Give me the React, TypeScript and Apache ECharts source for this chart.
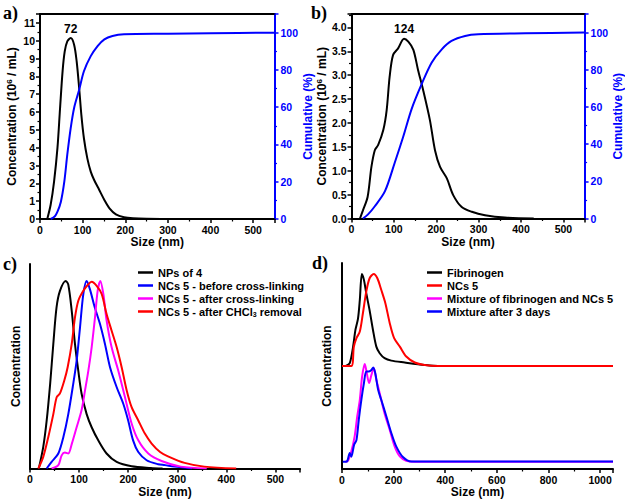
import React, { useEffect, useRef } from "react";
import * as echarts from "echarts";

const FONT = '"Liberation Sans", Arial, sans-serif';
const SERIF = '"Liberation Serif", "Times New Roman", serif';
const BLUE = "#0000ff";
const RED = "#ff0000";
const MAGENTA = "#ff00ff";
const BLACK = "#000000";

// Panel a
const aSize = [17, 25, 33, 41, 47, 53, 58, 64, 72, 80, 86, 92, 97, 103, 111, 119, 127, 139, 151, 163, 178, 197, 218, 250, 300];
const aConc = [0, 0.8, 2.1, 4.0, 6.2, 8.3, 9.4, 9.96, 10.15, 9.78, 8.84, 7.3, 5.84, 4.53, 3.4, 2.66, 2.19, 1.63, 1.07, 0.6, 0.26, 0.1, 0.04, 0.01, 0];
const aCumSize = [25, 35, 41, 49, 57, 64, 72, 80, 92, 103, 119, 135, 151, 170, 197, 300, 400, 550];
const aCum = [0, 1.5, 3.9, 9.3, 20, 34.5, 48.8, 59.6, 69.5, 79.3, 87.4, 92.8, 96.4, 98.2, 99.1, 99.4, 99.7, 100];
const aPeak = [72, 10.15];

// Panel b
const bSize = [20, 27, 38, 47, 55, 63, 75, 83, 90, 98, 110, 124, 134, 146, 157, 169, 185, 197, 209, 225, 240, 260, 284, 315, 362, 430];
const bConc = [0, 0.17, 0.45, 1.08, 1.43, 1.54, 1.85, 2.27, 2.97, 3.42, 3.56, 3.76, 3.7, 3.53, 3.11, 2.69, 2.06, 1.43, 1.08, 0.84, 0.49, 0.24, 0.14, 0.07, 0.02, 0];
const bCumSize = [27, 39, 55, 79, 102, 122, 142, 165, 189, 213, 236, 268, 299, 410, 550];
const bCum = [0, 2.2, 6.6, 14.7, 30, 44, 59, 72, 83.8, 91, 95.5, 98.2, 99.1, 99.6, 100];
const bPeak = [124, 3.76];

// Panel c (normalised concentration)
const cNames = ["NPs of 4", "NCs 5 - before cross-linking", "NCs 5 - after cross-linking", "NCs 5 - after CHCl3 removal"];
const cNpSize = [18, 27, 34, 41, 47.5, 54, 61, 72.7, 78, 85, 91.6, 98.4, 105, 115.4, 125.6, 139, 156, 176.5, 207, 246, 270];
const cNp = [0, 0.115, 0.256, 0.45, 0.664, 0.858, 0.947, 1.0, 0.98, 0.84, 0.664, 0.52, 0.4, 0.29, 0.22, 0.15, 0.08, 0.035, 0.012, 0.003, 0];
const cBeforeSize = [34, 44, 57.7, 68, 78, 88, 95, 101.8, 108.6, 115.4, 122, 132, 142.6, 152.7, 163, 176.6, 190, 200, 210, 220.6, 237.6, 261, 275, 294, 330];
const cBefore = [0, 0.035, 0.08, 0.168, 0.29, 0.45, 0.575, 0.75, 0.93, 1.0, 0.956, 0.858, 0.77, 0.664, 0.54, 0.433, 0.345, 0.256, 0.15, 0.088, 0.044, 0.023, 0.018, 0.01, 0];
const cAfterSize = [44, 57.7, 64.5, 71, 78, 85, 95, 105, 112, 118.8, 125.6, 132.4, 137.8, 143.3, 149.4, 156, 166.3, 180, 193.5, 207, 220.6, 241, 268, 307, 360];
const cAfter = [0, 0.018, 0.07, 0.085, 0.08, 0.13, 0.22, 0.31, 0.415, 0.52, 0.646, 0.805, 0.947, 1.0, 0.93, 0.79, 0.646, 0.52, 0.38, 0.24, 0.15, 0.08, 0.04, 0.01, 0];
const cRemSize = [17, 27, 37.3, 47.5, 54.3, 61, 70, 76.7, 85, 91.6, 98.4, 108.6, 118.8, 125.6, 135.8, 146, 156, 166.3, 176.6, 186.7, 197, 207, 220.6, 234, 247.8, 265, 281, 315, 355, 420];
const cRem = [0, 0.062, 0.168, 0.29, 0.38, 0.4, 0.47, 0.54, 0.664, 0.805, 0.894, 0.947, 0.982, 0.995, 0.973, 0.93, 0.823, 0.734, 0.646, 0.54, 0.416, 0.327, 0.256, 0.186, 0.133, 0.088, 0.065, 0.03, 0.01, 0];

// Panel d (stacked, offset traces)
const dNames = ["Fibrinogen", "NCs 5", "Mixture of fibrinogen and NCs 5", "Mixture after 3 days"];
const dFibSize = [15, 30, 43, 52, 62, 69, 77, 85, 94, 107, 120, 133, 146, 165, 191, 243, 320, 372, 1050];
const dFib = [0.5, 0.514, 0.594, 0.675, 0.73, 0.82, 0.947, 0.918, 0.853, 0.77, 0.675, 0.594, 0.562, 0.538, 0.526, 0.517, 0.505, 0.5, 0.5];
const dNcSize = [0, 36, 46, 56, 69, 81, 94, 107, 123, 137, 152, 168, 185, 202, 224, 249, 282, 320, 370, 1050];
const dNc = [0.5, 0.5, 0.594, 0.635, 0.667, 0.756, 0.861, 0.926, 0.947, 0.926, 0.87, 0.805, 0.708, 0.635, 0.594, 0.546, 0.517, 0.505, 0.5, 0.5];
const dMixSize = [13, 23, 36, 49, 59, 69, 78, 88, 94, 105, 114, 123, 133, 146, 165, 185, 204, 224, 249, 280, 1050];
const dMix = [0.035, 0.04, 0.085, 0.158, 0.255, 0.336, 0.449, 0.51, 0.48, 0.417, 0.457, 0.49, 0.433, 0.368, 0.27, 0.19, 0.11, 0.061, 0.04, 0.035, 0.035];
const dDaySize = [3, 15, 21, 30, 36, 47, 56, 65, 75, 85, 94, 103, 114, 121, 129, 140, 152, 172, 191, 210, 236, 269, 1050];
const dDay = [0.035, 0.035, 0.04, 0.078, 0.06, 0.118, 0.14, 0.239, 0.336, 0.417, 0.473, 0.473, 0.481, 0.493, 0.465, 0.384, 0.336, 0.255, 0.175, 0.11, 0.058, 0.036, 0.036];

const pairs = (xs: number[], ys: number[]) => xs.map((x, i) => [x, ys[i]]);

const labelStyle = (color: string) => ({
  fontFamily: FONT,
  fontWeight: "bold",
  fontSize: 10.5,
  color,
});

const nameStyle = (color: string) => ({
  fontFamily: FONT,
  fontWeight: "bold",
  fontSize: 12,
  color,
  rich: {
    sup: { fontFamily: FONT, fontWeight: "bold", fontSize: 8, color, verticalAlign: "top", padding: [0, 0, 5, 0] },
  },
});

function valueAxis(opts: any) {
  const color = opts.color || BLACK;
  return {
    type: "value",
    gridIndex: opts.grid,
    position: opts.position,
    min: 0,
    max: opts.max,
    interval: opts.interval,
    name: opts.name || "",
    nameLocation: "middle",
    nameGap: opts.nameGap || 20,
    nameRotate: opts.nameRotate,
    nameTextStyle: nameStyle(color),
    axisLine: { show: true, onZero: false, lineStyle: { color, width: 2 } },
    axisTick: { show: opts.ticks !== false, length: 4, lineStyle: { color, width: 1.5 } },
    minorTick: { show: opts.ticks !== false, splitNumber: 2, length: 2.5, lineStyle: { color, width: 1.2 } },
    axisLabel: {
      show: opts.ticks !== false,
      showMaxLabel: false,
      margin: opts.margin || 5,
      formatter: opts.formatter || ((v: number) => String(v)),
      ...labelStyle(color),
    },
    splitLine: { show: false },
    minorSplitLine: { show: false },
  };
}

function frameAxis(grid: number, max: number) {
  return {
    type: "value",
    gridIndex: grid,
    position: "top",
    min: 0,
    max,
    axisLine: { show: true, onZero: false, lineStyle: { color: BLACK, width: 2 } },
    axisTick: { show: false },
    axisLabel: { show: false },
    splitLine: { show: false },
  };
}

function line(name: string | undefined, color: string, data: number[][], xi: number, yi: number, extra: any = {}) {
  return {
    type: "line",
    name,
    xAxisIndex: xi,
    yAxisIndex: yi,
    data,
    color,
    smooth: 0.3,
    symbol: "none",
    showSymbol: false,
    lineStyle: { color, width: 2 },
    itemStyle: { color },
    z: 3,
    ...extra,
  };
}

function peakMark(p: number[]) {
  return {
    markPoint: {
      symbol: "circle",
      symbolSize: 1,
      itemStyle: { color: "rgba(0,0,0,0)" },
      label: {
        show: true,
        position: "top",
        distance: 3,
        formatter: String(p[0]),
        fontFamily: FONT,
        fontWeight: "bold",
        fontSize: 12,
        color: BLACK,
      },
      data: [{ coord: p }],
    },
  };
}

const legendText = {
  fontFamily: FONT,
  fontWeight: "bold",
  fontSize: 11,
  color: BLACK,
  lineHeight: 13,
  rich: {
    sub: { fontFamily: FONT, fontWeight: "bold", fontSize: 7, color: BLACK, lineHeight: 13, padding: [6, 0, 0, 0] },
  },
};

function legend(names: string[], left: number, top: number) {
  return {
    data: names,
    left,
    top,
    orient: "vertical",
    padding: 0,
    itemWidth: 15,
    itemHeight: 2.5,
    itemGap: 0,
    icon: "rect",
    selectedMode: false,
    textStyle: legendText,
    formatter: (n: string) => n.replace("CHCl3", "CHCl{sub|3}"),
  };
}

const panelLetter = (text: string, x: number, y: number) => ({
  type: "text",
  x,
  y,
  style: {
    text,
    fontFamily: SERIF,
    fontWeight: "bold",
    fontSize: 18,
    fill: BLACK,
    textVerticalAlign: "middle",
  },
});

export default function App() {
  const ref = useRef<HTMLDivElement>(null);
  useEffect(() => {
    if (!ref.current) return;
    const chart = echarts.init(ref.current, undefined, { renderer: "svg" });
    const option: any = {
      animation: false,
      backgroundColor: "#ffffff",
      grid: [
        { left: 40, top: 14, width: 234.5, height: 205 },
        { left: 351.5, top: 14, width: 233.5, height: 204.5 },
        { left: 30, top: 264, width: 270, height: 204.5 },
        { left: 342, top: 263, width: 271, height: 206 },
      ],
      xAxis: [
        valueAxis({ grid: 0, position: "bottom", max: 550, interval: 100, name: "Size (nm)", nameGap: 17 }),
        frameAxis(0, 550),
        valueAxis({ grid: 1, position: "bottom", max: 550, interval: 100, name: "Size (nm)", nameGap: 17 }),
        frameAxis(1, 550),
        valueAxis({ grid: 2, position: "bottom", max: 550, interval: 100, name: "Size (nm)", nameGap: 17 }),
        valueAxis({ grid: 3, position: "bottom", max: 1050, interval: 200, name: "Size (nm)", nameGap: 17 }),
      ],
      yAxis: [
        valueAxis({ grid: 0, position: "left", max: 11.5, interval: 1, name: "Concentration (10{sup|6} / mL)", nameGap: 22 }),
        valueAxis({ grid: 0, position: "right", max: 110, interval: 20, name: "Cumulative (%)", nameGap: 26, nameRotate: 90, color: BLUE, margin: 6 }),
        valueAxis({
          grid: 1, position: "left", max: 4.28, interval: 0.5, name: "Concentration (10{sup|6} / mL)", nameGap: 21,
          formatter: (v: number) => v.toFixed(1),
        }),
        valueAxis({ grid: 1, position: "right", max: 110, interval: 20, name: "Cumulative (%)", nameGap: 25, nameRotate: 90, color: BLUE, margin: 6 }),
        valueAxis({ grid: 2, position: "left", max: 1.09, interval: 0.5, name: "Concentration", nameGap: 8, ticks: false }),
        valueAxis({ grid: 3, position: "left", max: 1, interval: 0.5, name: "Concentration", nameGap: 9, ticks: false }),
      ],
      legend: [legend(cNames, 138, 266), legend(dNames, 427, 266)],
      series: [
        line(undefined, BLACK, pairs(aSize, aConc), 0, 0, peakMark(aPeak)),
        line(undefined, BLUE, pairs(aCumSize, aCum), 0, 1),
        line(undefined, BLACK, pairs(bSize, bConc), 2, 2, peakMark(bPeak)),
        line(undefined, BLUE, pairs(bCumSize, bCum), 2, 3),
        line(cNames[0], BLACK, pairs(cNpSize, cNp), 4, 4),
        line(cNames[1], BLUE, pairs(cBeforeSize, cBefore), 4, 4),
        line(cNames[2], MAGENTA, pairs(cAfterSize, cAfter), 4, 4),
        line(cNames[3], RED, pairs(cRemSize, cRem), 4, 4),
        line(dNames[0], BLACK, pairs(dFibSize, dFib), 5, 5),
        line(dNames[1], RED, pairs(dNcSize, dNc), 5, 5),
        line(dNames[2], MAGENTA, pairs(dMixSize, dMix), 5, 5),
        line(dNames[3], BLUE, pairs(dDaySize, dDay), 5, 5),
      ],
      graphic: [
        panelLetter("a)", 3, 13),
        panelLetter("b)", 311, 12.5),
        panelLetter("c)", 3, 264),
        panelLetter("d)", 312, 263),
      ],
    };
    chart.setOption(option);
    return () => chart.dispose();
  }, []);
  return (
    <div
      ref={ref}
      style={{ position: "absolute", left: 0, top: 0, width: 625, height: 503, background: "#fff" }}
    />
  );
}
